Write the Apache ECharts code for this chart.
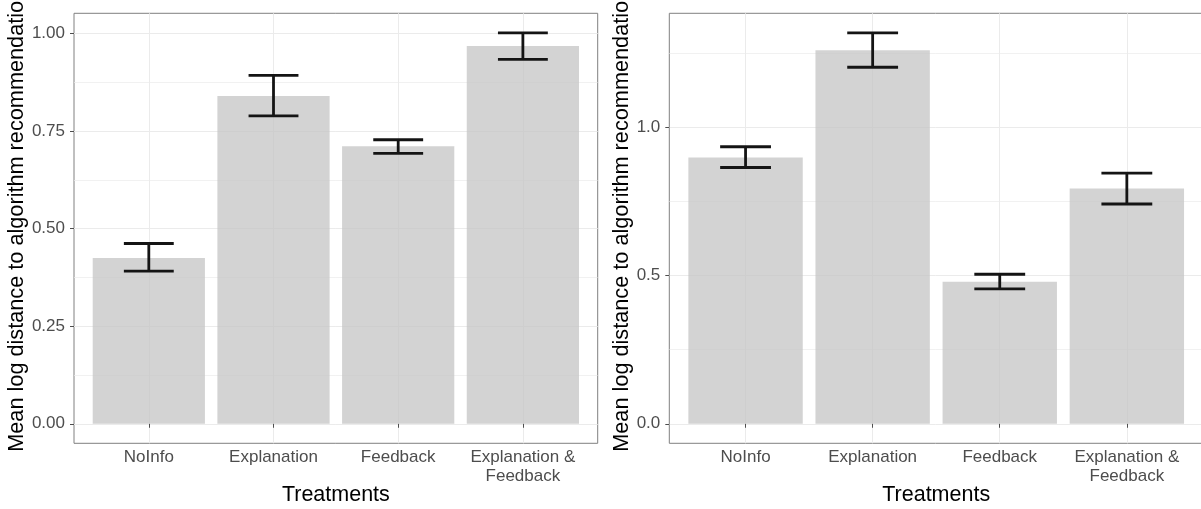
<!DOCTYPE html>
<html>
<head>
<meta charset="utf-8">
<script src="https://cdn.jsdelivr.net/npm/echarts@6/dist/echarts.min.js"></script>
<style>
  html, body { margin: 0; padding: 0; background: #ffffff; }
  #chart { width: 1201px; height: 509px; }
</style>
</head>
<body>
<div id="chart"></div>
<script>
// Treatments shown on the x axis of both panels
const categories = ['NoInfo', 'Explanation', 'Feedback', 'Explanation &\nFeedback'];

// Left panel: mean log distance with confidence bounds
const leftMeans = [0.425, 0.840, 0.711, 0.968];
const leftLower = [0.391, 0.789, 0.693, 0.934];
const leftUpper = [0.462, 0.893, 0.728, 1.002];
const leftTicks = [0, 0.25, 0.5, 0.75, 1.0];
const leftTickLabels = ['0.00', '0.25', '0.50', '0.75', '1.00'];
const leftMinorTicks = [0.125, 0.375, 0.625, 0.875];

// Right panel
const rightMeans = [0.898, 1.259, 0.479, 0.793];
const rightLower = [0.864, 1.202, 0.455, 0.741];
const rightUpper = [0.934, 1.318, 0.504, 0.845];
const rightTicks = [0, 0.5, 1.0];
const rightTickLabels = ['0.0', '0.5', '1.0'];
const rightMinorTicks = [0.25, 0.75, 1.25];

const xTitle = 'Treatments';
const yTitle = 'Mean log distance to algorithm recommendation';

const FONT = '"Liberation Sans", Arial, Helvetica, sans-serif';
const BAR_FILL = 'rgba(196,196,196,0.75)';
const ERR_COLOR = '#141414';
const GRID_COLOR = '#ebebeb';
const BAR_HALF = 0.45;   // bar half-width in category units
const CAP_HALF = 0.2;    // error-bar cap half-width in category units

const xPositions = categories.map((_, i) => i + 1);

// ggplot-like 5% expansion of the value range
function yRange(upper) {
  const top = Math.max(...upper);
  return { min: -0.05 * top, max: 1.05 * top };
}

function makeXAxis(gridIndex) {
  return {
    type: 'value', gridIndex: gridIndex, min: 0.4, max: 4.6,
    name: xTitle, nameLocation: 'middle', nameGap: 41, nameMoveOverlap: false,
    nameTextStyle: { color: '#000', fontSize: 21.5, fontFamily: FONT },
    axisLine: { show: false },
    axisTick: { show: true, length: 4, customValues: xPositions, lineStyle: { color: '#4d4d4d', width: 1 } },
    axisLabel: {
      customValues: xPositions, margin: 5, color: '#4d4d4d', fontSize: 17, lineHeight: 19,
      fontFamily: FONT, formatter: v => categories[Math.round(v) - 1]
    },
    splitLine: { show: true, lineStyle: { color: GRID_COLOR, width: 1 } }
  };
}

function makeYAxis(gridIndex, range, ticks, tickLabels, nameGap) {
  return {
    type: 'value', gridIndex: gridIndex, min: range.min, max: range.max,
    name: yTitle, nameLocation: 'middle', nameGap: nameGap,
    nameTextStyle: { color: '#000', fontSize: 21.7, fontFamily: FONT, padding: [0, 0, 0, 16] },
    axisLine: { show: false },
    axisTick: { show: true, length: 4, customValues: ticks, lineStyle: { color: '#4d4d4d', width: 1 } },
    axisLabel: {
      customValues: ticks, margin: 9, color: '#4d4d4d', fontSize: 17, fontFamily: FONT,
      formatter: v => tickLabels[ticks.findIndex(t => Math.abs(t - v) < 1e-9)]
    },
    splitLine: { show: true, lineStyle: { color: GRID_COLOR, width: 1 } }
  };
}

function makeMinorAxis(gridIndex, range, minorTicks) {
  return {
    type: 'value', gridIndex: gridIndex, min: range.min, max: range.max, position: 'left',
    axisLine: { show: false },
    axisTick: { show: false, customValues: minorTicks },
    axisLabel: { show: false, customValues: minorTicks },
    splitLine: { show: true, lineStyle: { color: GRID_COLOR, width: 0.7 } }
  };
}

function barSeries(xIndex, yIndex, means) {
  return {
    type: 'custom', xAxisIndex: xIndex, yAxisIndex: yIndex, z: 2,
    data: means.map((m, i) => [xPositions[i], m]),
    renderItem: (params, api) => {
      const x = api.value(0), y = api.value(1);
      const p0 = api.coord([x - BAR_HALF, y]);
      const p1 = api.coord([x + BAR_HALF, 0]);
      return {
        type: 'rect',
        shape: { x: p0[0], y: p0[1], width: p1[0] - p0[0], height: p1[1] - p0[1] },
        style: { fill: BAR_FILL }
      };
    }
  };
}

function errorSeries(xIndex, yIndex, lower, upper) {
  return {
    type: 'custom', xAxisIndex: xIndex, yAxisIndex: yIndex, z: 3,
    data: lower.map((lo, i) => [xPositions[i], lo, upper[i]]),
    renderItem: (params, api) => {
      const x = api.value(0), lo = api.value(1), hi = api.value(2);
      const top = api.coord([x, hi]), bot = api.coord([x, lo]);
      const l = api.coord([x - CAP_HALF, hi])[0], r = api.coord([x + CAP_HALF, hi])[0];
      const style = { stroke: ERR_COLOR, lineWidth: 2.8, lineCap: 'butt' };
      return {
        type: 'group',
        children: [
          { type: 'line', shape: { x1: top[0], y1: top[1], x2: bot[0], y2: bot[1] }, style: style },
          { type: 'line', shape: { x1: l, y1: top[1], x2: r, y2: top[1] }, style: style },
          { type: 'line', shape: { x1: l, y1: bot[1], x2: r, y2: bot[1] }, style: style }
        ]
      };
    }
  };
}

const leftRange = yRange(leftUpper);
const rightRange = yRange(rightUpper);

const chart = echarts.init(document.getElementById('chart'), null, { renderer: 'canvas' });
chart.setOption({
  animation: false,
  backgroundColor: '#ffffff',
  textStyle: { fontFamily: FONT },
  grid: [
    { left: 74, top: 13.3, width: 523.7, height: 430, outerBoundsMode: 'none', containLabel: false,
      show: true, borderColor: '#808080', borderWidth: 1, backgroundColor: 'transparent' },
    { left: 669.3, top: 13.3, width: 533.8, height: 430, outerBoundsMode: 'none', containLabel: false,
      show: true, borderColor: '#808080', borderWidth: 1, backgroundColor: 'transparent' }
  ],
  xAxis: [makeXAxis(0), makeXAxis(1)],
  yAxis: [
    makeYAxis(0, leftRange, leftTicks, leftTickLabels, 42),
    makeMinorAxis(0, leftRange, leftMinorTicks),
    makeYAxis(1, rightRange, rightTicks, rightTickLabels, 34),
    makeMinorAxis(1, rightRange, rightMinorTicks)
  ],
  series: [
    barSeries(0, 0, leftMeans),
    errorSeries(0, 0, leftLower, leftUpper),
    barSeries(1, 2, rightMeans),
    errorSeries(1, 2, rightLower, rightUpper)
  ]
});
</script>
</body>
</html>
